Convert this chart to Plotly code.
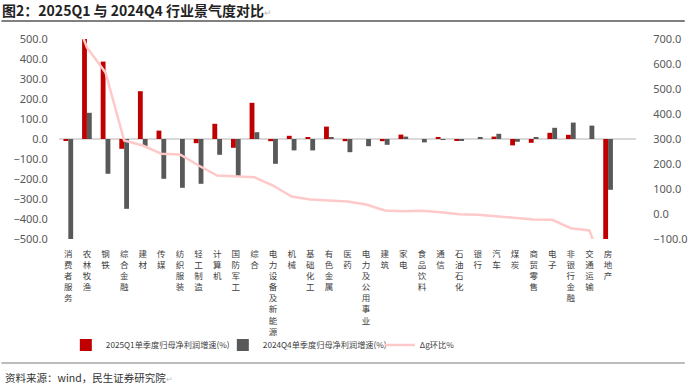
import plotly.graph_objects as go

categories = ["消费者服务", "农林牧渔", "钢铁", "综合金融", "建材", "传媒", "纺织服装", "轻工制造",
              "计算机", "国防军工", "综合", "电力设备及新能源", "机械", "基础化工", "有色金属", "医药",
              "电力及公用事业", "建筑", "家电", "食品饮料", "通信", "石油石化", "银行", "汽车", "煤炭",
              "商贸零售", "电子", "非银行金融", "交通运输", "房地产"]

q1_2025 = [-8, 505, 387, -49, 239, 42, 0, -21, 76, -44, 181, -11, 16, 6, 62, -11,
           0, -11, 22, 0, 6, -8, 0, 12, -32, -19, 31, 21, 0, -505]

q4_2024 = [-505, 131, -174, -349, -36, -199, -244, -224, -79, -186, 34, -124, -57, -57, 9, -66,
           -36, -29, 12, -17, -3, -6, 8, 26, -14, 9, 56, 82, 67, -254]

delta_g = [860, 666, 566, 294, 274, 241, 238, 194, 154, 151, 147, 114, 70, 58, 55, 50,
           38, 14, 11, 13, 7, -1, -3, -10, -17, -22, -23, -57, -66, -270]

left_ticks = list(range(-500, 501, 100))
right_ticks = list(range(-100, 701, 100))

names = ["2025Q1单季度归母净利润增速(%)", "2024Q4单季度归母净利润增速(%)", "Δg环比%"]

W, H = 700, 385
ML, MR, MT, MB = 59, 50, 39, 146
PW, PH = W - ML - MR, H - MT - MB


def px_x(p):
    return (p - ML) / PW


def px_y(p):
    return (H - MB - p) / PH


fig = go.Figure()
fig.add_trace(go.Bar(x=categories, y=q1_2025, name=names[0], marker_color="#C00000",
                     marker_line_width=0))
fig.add_trace(go.Bar(x=categories, y=q4_2024, name=names[1], marker_color="#595959",
                     marker_line_width=0))
fig.add_trace(go.Scatter(x=categories, y=delta_g, name=names[2], yaxis="y2", mode="lines",
                         line=dict(color="#FFC9C9", width=2.5)))

tickfont = dict(family="Noto Sans, Noto Sans CJK SC", size=11, color="#595959")
vertical_labels = ["<br>".join(list(c)) for c in categories]

annotations = [dict(
    x=px_x(2), xref="paper", y=px_y(377), yref="paper", xanchor="left", yanchor="middle",
    text="资料来源：wind，民生证券研究院<span style='color:#BBBBBB;font-size:8px'>↵</span>",
    showarrow=False, font=dict(family="Noto Sans CJK SC", size=10.5, color="#333333"))]

shapes = [
    dict(type="line", xref="paper", yref="paper", x0=px_x(0), x1=px_x(700),
         y0=px_y(21), y1=px_y(21), line=dict(color="#808080", width=2)),
    dict(type="line", xref="paper", yref="paper", x0=px_x(0), x1=px_x(700),
         y0=px_y(363), y1=px_y(363), line=dict(color="#A6A6A6", width=1.5)),
]

fig.update_layout(
    width=W, height=H,
    margin=dict(l=ML, r=MR, t=MT, b=MB),
    paper_bgcolor="white", plot_bgcolor="white",
    barmode="group", bargap=0.48, bargroupgap=0,
    title=dict(text="图2：2025Q1 与 2024Q4 行业景气度对比<span style='color:#BBBBBB;font-size:9px;font-weight:normal'>↵</span>",
               xref="container", x=0.003, xanchor="left", y=1 - 11 / H, yanchor="middle",
               font=dict(family="Noto Sans CJK SC", size=14, color="#222222", weight="bold")),
    xaxis=dict(type="category", range=[-0.5, 30.5], tickvals=categories, ticktext=vertical_labels,
               tickangle=0, showgrid=False, showline=False, zeroline=False,
               ticks="outside", ticklen=7, tickcolor="rgba(0,0,0,0)",
               tickfont=dict(family="Noto Sans CJK SC", size=8.5, color="#404040")),
    yaxis=dict(range=[-500, 500], tickvals=left_ticks, tickformat=".1f", showgrid=False,
               zeroline=True, zerolinecolor="#D9D9D9", zerolinewidth=1.5, showline=False,
               tickfont=tickfont, ticks="outside", ticklen=8, tickcolor="rgba(0,0,0,0)"),
    yaxis2=dict(range=[-100, 700], tickvals=right_ticks, tickformat=".1f", overlaying="y",
                side="right", showgrid=False, zeroline=False, showline=False,
                tickfont=tickfont, ticks="outside", ticklen=14, tickcolor="rgba(0,0,0,0)"),
    legend=dict(orientation="h", x=px_x(66), xanchor="left", y=px_y(345), yanchor="middle",
                font=dict(family="Noto Sans CJK SC", size=8.2, color="#404040"),
                bgcolor="rgba(0,0,0,0)", itemwidth=30, tracegroupgap=0,
                entrywidth=112, entrywidthmode="pixels"),
    annotations=annotations,
    shapes=shapes,
    showlegend=True,
)

fig.write_html("out.html", config={"displayModeBar": False},
               post_script="document.body.style.margin='0';document.body.style.overflow='hidden';")
